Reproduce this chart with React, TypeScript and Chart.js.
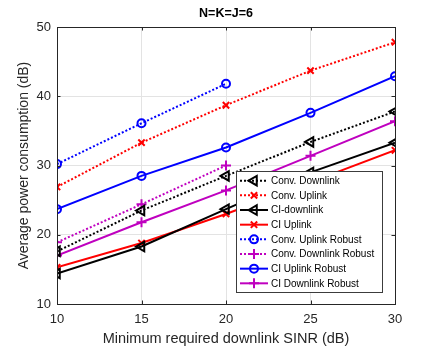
import React, { useEffect, useRef } from 'react';
import { Chart, registerables } from 'chart.js';

Chart.register(...registerables);

const sinrDb = [10, 15, 20, 25, 30];
const convDownlink = [17.6, 23.5, 28.5, 33.4, 37.8];
const convUplink = [26.9, 33.3, 38.7, 43.7, 47.8];
const ciDownlink = [14.4, 18.3, 23.7, 29.0, 33.3];
const ciUplink = [15.3, 18.8, 23.0, 27.6, 32.2];
const convUplinkRobust = [30.2, 36.1, 41.8];
const convDownlinkRobust = [18.9, 24.4, 30.0];
const ciUplinkRobust = [23.7, 28.5, 32.6, 37.6, 42.9];
const ciDownlinkRobust = [17.0, 21.8, 26.4, 31.4, 36.4];
const xTicks = [10, 15, 20, 25, 30];
const yTicks = [10, 20, 30, 40, 50];
const titleText = 'N=K=J=6';
const xLabel = 'Minimum required downlink SINR (dB)';
const yLabel = 'Average power consumption (dB)';

const RED = '#ff0000';
const BLUE = '#0000ff';
const BLACK = '#000000';
const MAGENTA = '#bf00bf';
const FONT = '"Liberation Sans", Arial, Helvetica, sans-serif';
const AXIS = '#262626';

type Marker = 'tri' | 'x' | 'o' | '+';
interface SeriesDef { label: string; values: number[]; color: string; dotted: boolean; marker: Marker }

const series: SeriesDef[] = [
  { label: 'Conv. Downlink', values: convDownlink, color: BLACK, dotted: true, marker: 'tri' },
  { label: 'Conv. Uplink', values: convUplink, color: RED, dotted: true, marker: 'x' },
  { label: 'CI-downlink', values: ciDownlink, color: BLACK, dotted: false, marker: 'tri' },
  { label: 'CI Uplink', values: ciUplink, color: RED, dotted: false, marker: 'x' },
  { label: 'Conv. Uplink Robust', values: convUplinkRobust, color: BLUE, dotted: true, marker: 'o' },
  { label: 'Conv. Downlink Robust', values: convDownlinkRobust, color: MAGENTA, dotted: true, marker: '+' },
  { label: 'CI Uplink Robust', values: ciUplinkRobust, color: BLUE, dotted: false, marker: 'o' },
  { label: 'CI Downlink Robust', values: ciDownlinkRobust, color: MAGENTA, dotted: false, marker: '+' },
];

const DASH = [2, 2];

function markerProps(m: Marker) {
  switch (m) {
    case 'tri': return { pointStyle: 'triangle', pointRotation: -90, pointRadius: 5.5 };
    case 'x': return { pointStyle: 'crossRot', pointRotation: 0, pointRadius: 4.5 };
    case 'o': return { pointStyle: 'circle', pointRotation: 0, pointRadius: 4 };
    default: return { pointStyle: 'cross', pointRotation: 0, pointRadius: 5 };
  }
}

function drawMarker(ctx: CanvasRenderingContext2D, m: Marker, x: number, y: number, color: string) {
  ctx.save();
  ctx.setLineDash([]);
  ctx.strokeStyle = color;
  ctx.lineWidth = 2;
  ctx.beginPath();
  if (m === 'tri') {
    const r = 5.5;
    let rad = -Math.PI / 2;
    ctx.moveTo(x + Math.sin(rad) * r, y - Math.cos(rad) * r);
    rad += (2 * Math.PI) / 3;
    ctx.lineTo(x + Math.sin(rad) * r, y - Math.cos(rad) * r);
    rad += (2 * Math.PI) / 3;
    ctx.lineTo(x + Math.sin(rad) * r, y - Math.cos(rad) * r);
    ctx.closePath();
  } else if (m === 'x') {
    const r = 4.5 * Math.SQRT1_2;
    ctx.moveTo(x - r, y - r); ctx.lineTo(x + r, y + r);
    ctx.moveTo(x - r, y + r); ctx.lineTo(x + r, y - r);
  } else if (m === 'o') {
    ctx.arc(x, y, 4, 0, Math.PI * 2);
  } else {
    const r = 5;
    ctx.moveTo(x - r, y); ctx.lineTo(x + r, y);
    ctx.moveTo(x, y - r); ctx.lineTo(x, y + r);
  }
  ctx.stroke();
  ctx.restore();
}

const framePlugin = {
  id: 'matlabFrame',
  afterDatasetsDraw(chart: any) {
    const { ctx, chartArea: a, scales } = chart;
    ctx.save();
    ctx.strokeStyle = AXIS;
    ctx.lineWidth = 1;
    ctx.setLineDash([]);
    ctx.strokeRect(Math.round(a.left) + 0.5, Math.round(a.top) + 0.5, Math.round(a.right - a.left), Math.round(a.bottom - a.top));
    const tl = 3.5;
    ctx.beginPath();
    xTicks.forEach((v) => {
      const px = Math.round(scales.x.getPixelForValue(v)) + 0.5;
      ctx.moveTo(px, a.bottom); ctx.lineTo(px, a.bottom - tl);
      ctx.moveTo(px, a.top); ctx.lineTo(px, a.top + tl);
    });
    yTicks.forEach((v) => {
      const py = Math.round(scales.y.getPixelForValue(v)) + 0.5;
      ctx.moveTo(a.left, py); ctx.lineTo(a.left + tl, py);
      ctx.moveTo(a.right, py); ctx.lineTo(a.right - tl, py);
    });
    ctx.stroke();
    ctx.restore();
  },
  afterDraw(chart: any) {
    const { ctx, chartArea: a } = chart;
    ctx.save();
    // title
    ctx.fillStyle = '#000';
    ctx.font = `bold 12.5px ${FONT}`;
    ctx.textAlign = 'center';
    ctx.textBaseline = 'middle';
    ctx.fillText(titleText, (a.left + a.right) / 2, 14);
    // legend
    const bx = 236, by = 171, bw = 146, bh = 121;
    ctx.fillStyle = '#ffffff';
    ctx.fillRect(bx, by, bw, bh);
    ctx.strokeStyle = '#3c3c3c';
    ctx.lineWidth = 1;
    ctx.strokeRect(bx + 0.5, by + 0.5, bw, bh);
    const rowH = 14.66;
    ctx.font = `10px ${FONT}`;
    ctx.textAlign = 'left';
    ctx.textBaseline = 'middle';
    series.forEach((s, i) => {
      const y = by + 9.7 + i * rowH;
      ctx.strokeStyle = s.color;
      ctx.lineWidth = 2;
      ctx.setLineDash(s.dotted ? DASH : []);
      ctx.beginPath();
      ctx.moveTo(240, y); ctx.lineTo(268, y);
      ctx.stroke();
      drawMarker(ctx, s.marker, 254, y, s.color);
      ctx.setLineDash([]);
      ctx.fillStyle = '#000';
      ctx.fillText(s.label, 271, y + 0.5);
    });
    ctx.restore();
  },
};

export default function App() {
  const canvasRef = useRef<HTMLCanvasElement | null>(null);

  useEffect(() => {
    const canvas = canvasRef.current;
    if (!canvas) return;
    const datasets = series.map((s) => ({
      label: s.label,
      data: s.values.map((v, i) => ({ x: sinrDb[i], y: v })),
      borderColor: s.color,
      backgroundColor: s.color,
      borderWidth: 2,
      borderDash: s.dotted ? DASH : [],
      pointBorderColor: s.color,
      pointBackgroundColor: 'rgba(0,0,0,0)',
      pointBorderWidth: 2,
      fill: false,
      tension: 0,
      ...markerProps(s.marker),
    }));
    const chart = new Chart(canvas, {
      type: 'line',
      data: { datasets } as any,
      options: {
        responsive: false,
        animation: false,
        devicePixelRatio: 1,
        layout: { padding: { left: 0, top: 27, right: 41, bottom: 0 } },
        plugins: {
          legend: { display: false },
          title: { display: false },
          tooltip: { enabled: false },
        },
        scales: {
          x: {
            type: 'linear',
            min: 10,
            max: 30,
            afterFit: (scale: any) => { scale.height = 46; },
            afterBuildTicks: (scale: any) => { scale.ticks = xTicks.map((v) => ({ value: v })); },
            grid: { color: '#e3e3e3', drawTicks: false },
            border: { display: false },
            ticks: { color: AXIS, font: { family: FONT, size: 13 }, padding: 8, maxRotation: 0 },
            title: { display: true, text: xLabel, color: AXIS, font: { family: FONT, size: 14.5 }, padding: { top: 0, bottom: 2 } },
          },
          y: {
            type: 'linear',
            min: 10,
            max: 50,
            afterFit: (scale: any) => { scale.width = 57; },
            afterBuildTicks: (scale: any) => { scale.ticks = yTicks.map((v) => ({ value: v })); },
            grid: { color: '#e3e3e3', drawTicks: false },
            border: { display: false },
            ticks: { color: AXIS, font: { family: FONT, size: 13 }, padding: 6 },
            title: { display: true, text: yLabel, color: AXIS, font: { family: FONT, size: 14 }, padding: { top: 16, bottom: 0 } },
          },
        },
      } as any,
      plugins: [framePlugin],
    });
    return () => chart.destroy();
  }, []);

  return (
    <div style={{ position: 'fixed', left: 0, top: 0, width: 436, height: 350, background: '#fff' }}>
      <canvas ref={canvasRef} width={436} height={350} style={{ display: 'block', width: 436, height: 350 }} />
    </div>
  );
}
